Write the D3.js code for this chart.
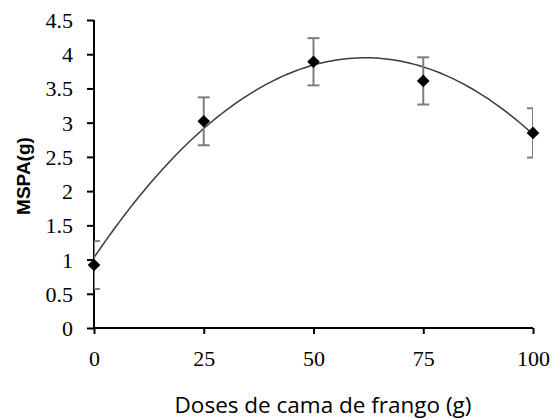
<!DOCTYPE html>
<html lang="pt">
<head>
<meta charset="UTF-8">
<title>MSPA</title>
<script src="https://d3js.org/d3.v7.min.js"></script>
<style>
  html, body { margin: 0; padding: 0; background: #fff; }
  svg { display: block; }
  svg .tick text { font-size: 22px; }
</style>
</head>
<body>
<svg id="chart" width="552" height="419"></svg>
<script>
// data
const doses = [0, 25, 50, 75, 100];
const mspa = [0.92, 3.02, 3.89, 3.61, 2.85];
const errs = [0.35, 0.35, 0.345, 0.345, 0.36];
// quadratic trend line: a + b*x + c*x^2
const trendCoef = [1.03, 0.0945, -0.000765];
const xTicks = [0, 25, 50, 75, 100];
const yTicks = [0, 0.5, 1, 1.5, 2, 2.5, 3, 3.5, 4, 4.5];

const serifStack = "'Liberation Serif', 'Noto Serif', 'DejaVu Serif', Tinos, 'Times New Roman', Times, 'Nimbus Roman', 'Nimbus Roman No9 L', FreeSerif, serif";

const width = 552, height = 419;
const margin = { top: 20, right: 19, bottom: 91, left: 94 };

const svg = d3.select("#chart");

const x = d3.scaleLinear().domain([0, 100]).range([margin.left, width - margin.right]);
const y = d3.scaleLinear().domain([0, 4.5]).range([height - margin.bottom, margin.top]);

// clip for plot area (error bar caps get cut at the edges)
svg.append("clipPath").attr("id", "plot")
  .append("rect")
  .attr("x", margin.left).attr("y", 0)
  .attr("width", width - margin.left - margin.right).attr("height", height);

// y axis
const yAxis = svg.append("g")
  .attr("transform", `translate(${margin.left},0)`)
  .call(d3.axisLeft(y).tickValues(yTicks).tickSize(7).tickPadding(14).tickFormat(d => String(d)));
// x axis
const xAxis = svg.append("g")
  .attr("transform", `translate(0,${height - margin.bottom})`)
  .call(d3.axisBottom(x).tickValues(xTicks).tickSize(6).tickPadding(16).tickFormat(d => String(d)));

[yAxis, xAxis].forEach(g => {
  g.attr("font-family", serifStack).attr("font-size", 22);
  g.select(".domain").attr("stroke", "#000").attr("stroke-width", 2)
    .attr("d", g === yAxis ? `M0,${y(4.5)}V${y(0)}` : `M${x(0)},0H${x(100)}`);
  g.selectAll(".tick line").attr("stroke", "#000").attr("stroke-width", 2);
  g.selectAll(".tick text").attr("fill", "#000").style("font-family", serifStack);
});
yAxis.selectAll(".tick text").attr("dy", "0.34em");
xAxis.selectAll(".tick text").attr("dy", "0.71em");

// trend line
const curveData = d3.range(0, 100.5, 1).map(d => [d, trendCoef[0] + trendCoef[1] * d + trendCoef[2] * d * d]);
svg.append("path")
  .datum(curveData)
  .attr("fill", "none")
  .attr("stroke", "#3a3a3a")
  .attr("stroke-width", 1.5)
  .attr("d", d3.line().x(d => x(d[0])).y(d => y(d[1])));

// error bars
const bars = svg.append("g").attr("clip-path", "url(#plot)")
  .attr("stroke", "#7f7f7f").attr("stroke-width", 2).attr("fill", "none");
doses.forEach((d, i) => {
  const cx = x(d), top = y(mspa[i] + errs[i]), bot = y(mspa[i] - errs[i]);
  bars.append("line").attr("x1", cx).attr("x2", cx).attr("y1", top).attr("y2", bot);
  bars.append("line").attr("x1", cx - 6).attr("x2", cx + 6).attr("y1", top).attr("y2", top);
  bars.append("line").attr("x1", cx - 6).attr("x2", cx + 6).attr("y1", bot).attr("y2", bot);
});

// markers (diamonds)
svg.append("g").selectAll("path")
  .data(doses)
  .join("path")
  .attr("d", d3.symbol().type(d3.symbolSquare).size(80))
  .attr("transform", (d, i) => `translate(${x(d)},${y(mspa[i])}) rotate(45)`)
  .attr("fill", "#000");

// axis titles
svg.append("text")
  .attr("x", 323).attr("y", 413)
  .attr("text-anchor", "middle")
  .style("font-family", "'Open Sans', 'Noto Sans', sans-serif")
  .style("font-size", "22.5px")
  .text("Doses de cama de frango (g)");

svg.append("text")
  .attr("transform", "translate(30,176) rotate(-90)")
  .attr("text-anchor", "middle")
  .style("font-family", "'Liberation Sans', Arial, sans-serif")
  .style("font-size", "19px")
  .style("font-weight", "bold")
  .text("MSPA(g)");
</script>
</body>
</html>
